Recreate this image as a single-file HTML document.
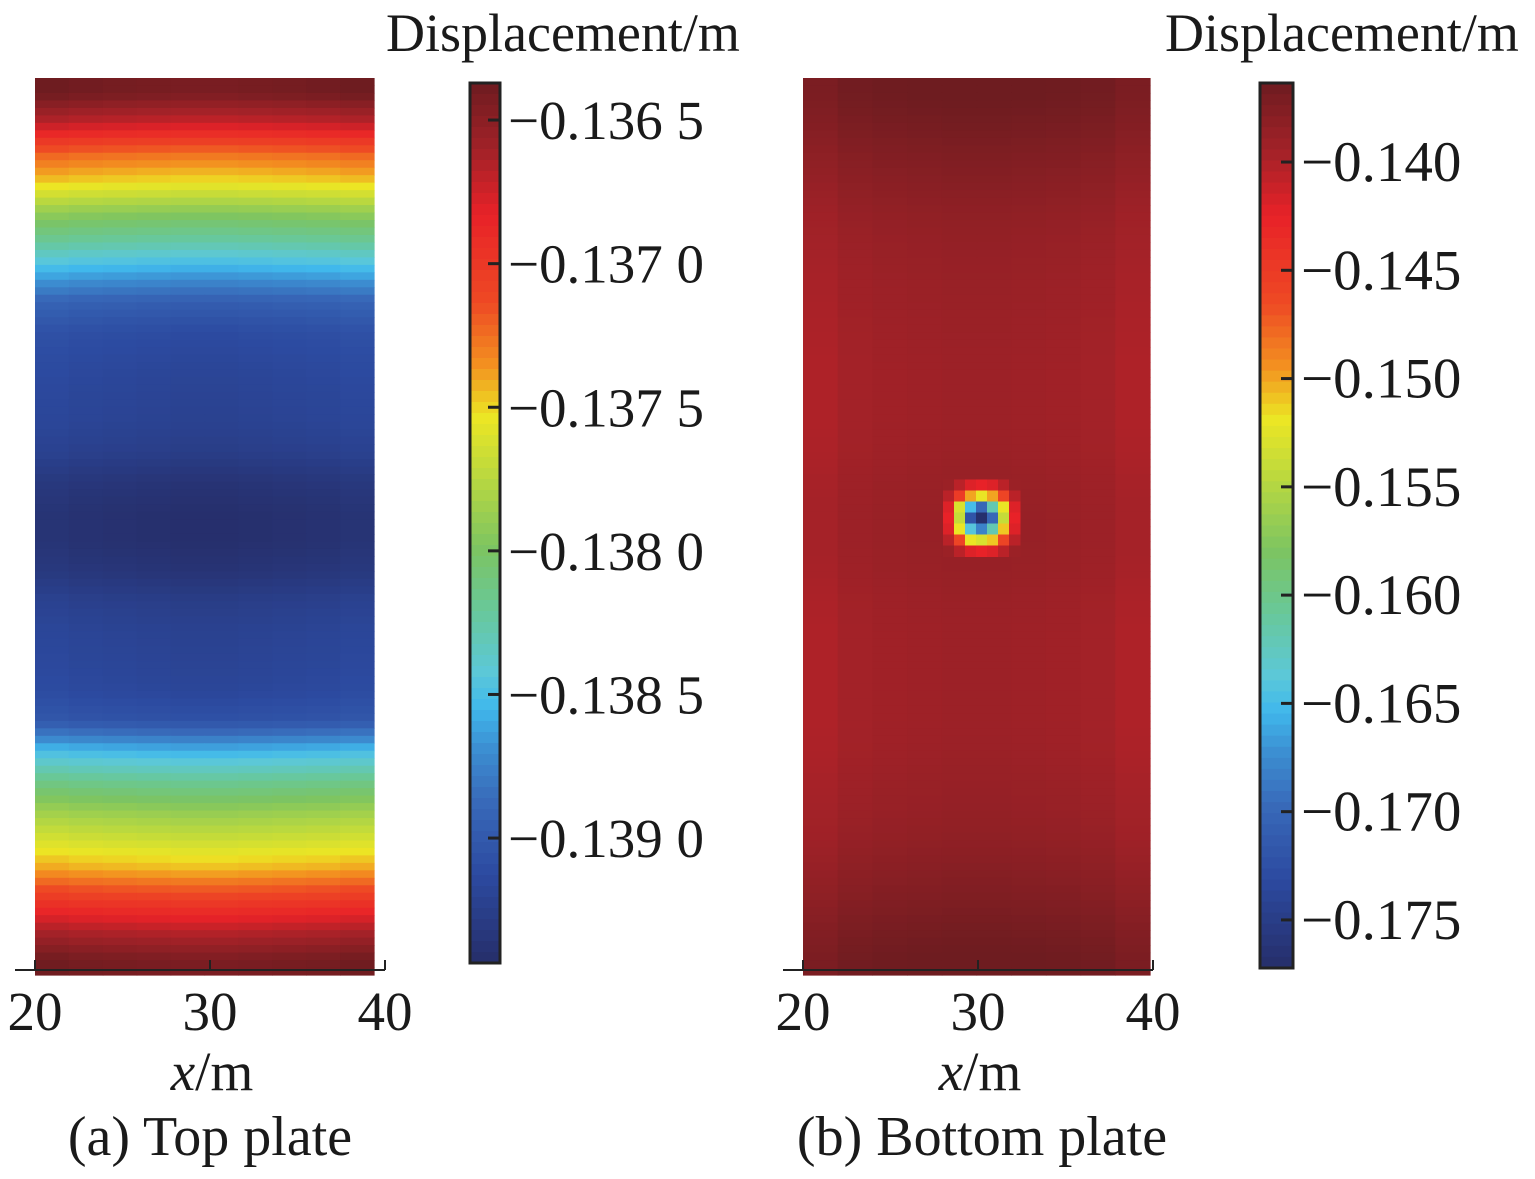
<!DOCTYPE html>
<html><head><meta charset="utf-8"><style>
body{margin:0;background:#fff;}
svg text{font-family:"Liberation Serif",serif;fill:#1a1a1a;}
</style></head><body>
<svg id="c" width="1535" height="1174" xmlns="http://www.w3.org/2000/svg"></svg>
<script>
// Top plate: row profile (top to bottom) and column offsets
const topRows=[-0.13640,-0.13671,-0.13723,-0.13751,-0.13793,-0.13824,-0.13860,-0.13895,-0.13910,-0.13915,-0.13918,-0.13920,-0.13925,-0.13935,-0.13940,-0.13940,-0.13935,-0.13925,-0.13920,-0.13918,-0.13915,-0.13905,-0.13855,-0.13818,-0.13789,-0.13765,-0.13741,-0.13702,-0.13667,-0.13641];
const topCols=[0.00003,0.00001,0,-0.00001,-0.00002,-0.00002,-0.00001,0,0.00001,0.00003];
// Bottom plate
const botRows=[-0.1365,-0.1370,-0.1376,-0.1381,-0.1386,-0.1389,-0.1391,-0.1392,-0.1393,-0.1394,-0.1394,-0.1394,-0.1393,-0.1391,-0.1390,-0.1390,-0.1391,-0.1393,-0.1394,-0.1394,-0.1394,-0.1394,-0.1393,-0.1391,-0.1389,-0.1386,-0.1381,-0.1376,-0.1370,-0.1365];
const botCols=[-0.0006,-0.0001,0.0001,0.0002,0.0003,0.0003,0.0002,0.0001,-0.0001,-0.0006];
const hole=[
[-0.1390,-0.1405,-0.1420,-0.1425,-0.1420,-0.1405,-0.1390],
[-0.1405,-0.1450,-0.1500,-0.1520,-0.1500,-0.1460,-0.1405],
[-0.1420,-0.1530,-0.1650,-0.1700,-0.1620,-0.1520,-0.1420],
[-0.1425,-0.1540,-0.1720,-0.1770,-0.1700,-0.1540,-0.1425],
[-0.1420,-0.1520,-0.1640,-0.1680,-0.1620,-0.1510,-0.1420],
[-0.1405,-0.1460,-0.1520,-0.1530,-0.1510,-0.1460,-0.1405],
[-0.1390,-0.1405,-0.1420,-0.1425,-0.1420,-0.1405,-0.1390]];
const holeX=30.2;
const xTicks=[20,30,40];
const cbTopTicks=[-0.1365,-0.1370,-0.1375,-0.1380,-0.1385,-0.1390];
const cbTopLabels=["−0.136 5","−0.137 0","−0.137 5","−0.138 0","−0.138 5","−0.139 0"];
const cbBotTicks=[-0.140,-0.145,-0.150,-0.155,-0.160,-0.165,-0.170,-0.175];
const cbBotLabels=["−0.140","−0.145","−0.150","−0.155","−0.160","−0.165","−0.170","−0.175"];

const svg=document.getElementById('c');const NS='http://www.w3.org/2000/svg';
function mk(t,a,p){const e=document.createElementNS(NS,t);for(const k in a)e.setAttribute(k,a[k]);(p||svg).appendChild(e);return e;}
const CS=[[0,[110,28,32]],[0.08,[165,34,40]],[0.15,[232,34,40]],[0.25,[238,74,36]],[0.32,[243,144,32]],[0.38,[236,230,36]],[0.45,[184,216,64]],[0.53,[124,196,98]],[0.6,[104,200,154]],[0.67,[92,200,216]],[0.71,[64,184,236]],[0.76,[60,140,208]],[0.82,[56,104,184]],[0.9,[44,74,160]],[1,[38,46,106]]];
function cmap(t){t=Math.max(0,Math.min(1,t));for(let i=1;i<CS.length;i++){if(t<=CS[i][0]){const a=CS[i-1],b=CS[i],f=(t-a[0])/(b[0]-a[0]);
 return 'rgb('+a[1].map((c,k)=>Math.round(c+(b[1][k]-c)*f)).join(',')+')';}}return 'rgb(38,46,106)';}

function panel(o){
 const g=mk('g',{});
 
 
 const xs=v=>o.ax0+(v-20)/20*(o.ax1-o.ax0);
 const cbY=v=>o.cbTop+(o.vmax-v)/(o.vmax-o.vmin)*(o.cbBot-o.cbTop);
 const col=v=>cmap((o.vmax-v)/(o.vmax-o.vmin));
 const nr=o.rows.length,nc=o.cols.length,sub=4;
 const cw=(o.hx1-o.hx0)/nc,ch=(o.hy1-o.hy0)/nr/sub;
 for(let i=0;i<nr*sub;i++){
  const p=(i+0.5)/sub-0.5,i0=Math.max(0,Math.min(nr-1,Math.floor(p))),i1=Math.min(nr-1,i0+1),f=Math.max(0,Math.min(1,p-i0));
  const rv=o.rows[i0]*(1-f)+o.rows[i1]*f;
  for(let j=0;j<nc;j++){
  const r=mk('rect',{x:o.hx0+j*cw,y:o.hy0+i*ch,width:cw+0.6,height:ch+0.6,fill:col(rv+o.cols[j])},g);
  
  
 }}
 if(o.hole){const s=11,cx=xs(o.holeX),cy=518;
  for(let i=0;i<7;i++)for(let j=0;j<7;j++){
   const r=mk('rect',{x:cx+(j-3.5)*s,y:cy+(i-3.5)*s,width:s+0.5,height:s+0.5,fill:col(o.hole[i][j])},g);
   
   
  }}
 const ax=mk('line',{x1:o.ax0-20,x2:o.ax1,y1:970,y2:970,stroke:'#222','stroke-width':2},g);
 
 xTicks.forEach(t=>{mk('line',{x1:xs(t),x2:xs(t),y1:960,y2:970,stroke:'#222','stroke-width':2},g);
  const tx=mk('text',{x:xs(t),y:1030,'font-size':55,'text-anchor':'middle'},g);tx.textContent=t;
  });
 const xl=mk('text',{x:xs(30)+2,y:1090,'font-size':55,'text-anchor':'middle'},g);
 xl.innerHTML='<tspan font-style="italic">x</tspan>/m';
 
 const cap=mk('text',{x:o.capX,y:1155,'font-size':56,'text-anchor':'middle'},g);cap.textContent=o.caption;
 
 const n=80,hh=(o.cbBot-o.cbTop)/n;
 for(let k=0;k<n;k++){const v=o.vmax-(k+0.5)/n*(o.vmax-o.vmin);
  mk('rect',{x:o.cbX,y:o.cbTop+k*hh,width:o.cbW,height:hh+0.6,fill:col(v)},g);}
 const fr=mk('rect',{x:o.cbX,y:o.cbTop,width:o.cbW,height:o.cbBot-o.cbTop,fill:'none',stroke:'#222','stroke-width':3},g);
 
 o.ticks.forEach((t,i)=>{const y=cbY(t);
  mk('line',{x1:o.cbX+o.cbW-12,x2:o.cbX+o.cbW,y1:y,y2:y,stroke:'#222','stroke-width':3},g);
  const tx=mk('text',{x:o.cbX+o.cbW+8,y:y+19,'font-size':o.tfs},g);tx.textContent=o.labels[i];
  });
 const tt=mk('text',{x:o.titleX,y:51,'font-size':54},g);tt.textContent='Displacement/m';
 
}
panel({name:'top-plate-panel',rows:topRows,cols:topCols,hx0:35,hx1:374,hy0:78,hy1:975,ax0:35,ax1:385,tfs:55,
 cbX:470,cbW:30,cbTop:83,cbBot:963,vmax:-0.136371,vmin:-0.139435,ticks:cbTopTicks,labels:cbTopLabels,titleX:386,capX:210,caption:'(a) Top plate'});
panel({name:'bottom-plate-panel',rows:botRows,cols:botCols,hx0:803,hx1:1150,hy0:78,hy1:975,ax0:803,ax1:1153,hole:hole,holeX:holeX,tfs:57,
 cbX:1260,cbW:33,cbTop:83,cbBot:968,vmax:-0.13635,vmin:-0.17722,ticks:cbBotTicks,labels:cbBotLabels,titleX:1165,capX:982,caption:'(b) Bottom plate'});
</script>
</body></html>
